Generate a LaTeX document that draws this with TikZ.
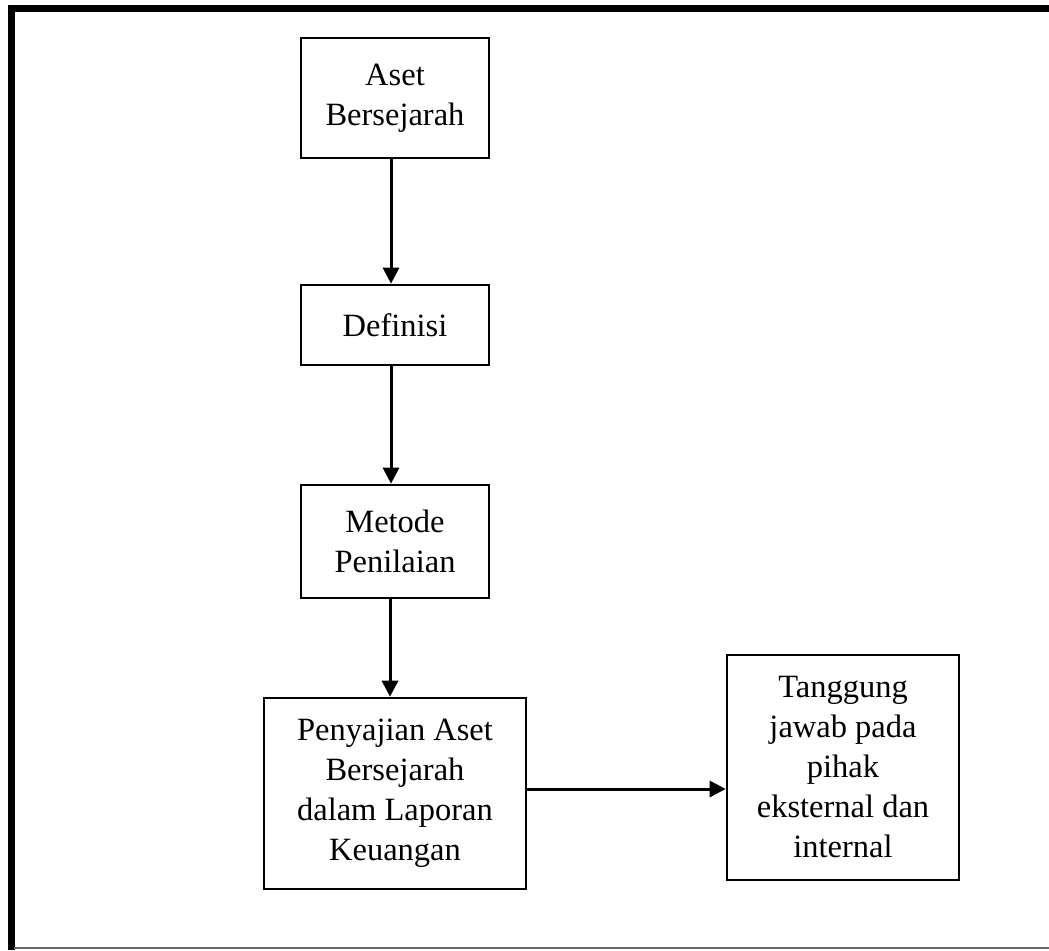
\documentclass[tikz,border=0pt]{standalone}
\usepackage{fontspec}
\setmainfont{Liberation Serif}
\usetikzlibrary{arrows.meta}
\begin{document}
\begin{tikzpicture}[x=1pt,y=-1pt,
  box/.style={draw=black,line width=2.6pt,inner sep=0pt,align=center,
    font=\fontsize{32.5}{40}\selectfont},
  conn/.style={line width=3pt,-{Triangle[length=16pt,width=16pt]}}]
\useasboundingbox (0,0) rectangle (1049,950);
\fill[white] (0,0) rectangle (1049,950);
% frame
\draw[line width=7pt] (1049,9) -- (11,9) -- (11,950);
\draw[line width=1.5pt,black!60] (14,948) -- (1049,948);
% boxes
\node[box,minimum width=188pt,minimum height=120pt] (aset) at (395,98) {Aset\\Bersejarah};
\node[box,minimum width=188pt,minimum height=80pt] (def) at (395,325) {Definisi};
\node[box,minimum width=188pt,minimum height=113pt] (met) at (395,541.5) {Metode\\Penilaian};
\node[box,minimum width=262pt,minimum height=191pt] (pen) at (395,793.5) {Penyajian Aset\\Bersejarah\\dalam Laporan\\Keuangan};
\node[box,minimum width=232pt,minimum height=225pt] (tang) at (843,767.5) {Tanggung\\jawab pada\\pihak\\eksternal dan\\internal};
% connectors
\draw[conn] ([xshift=-4pt]aset.south) -- ([xshift=-4pt]def.north);
\draw[conn] ([xshift=-4pt]def.south) -- ([xshift=-4pt]met.north);
\draw[conn] ([xshift=-5pt]met.south) -- ([xshift=-5pt]pen.north);
\draw[conn] (pen.east |- 0,789) -- (tang.west |- 0,789);
\end{tikzpicture}
\end{document}
